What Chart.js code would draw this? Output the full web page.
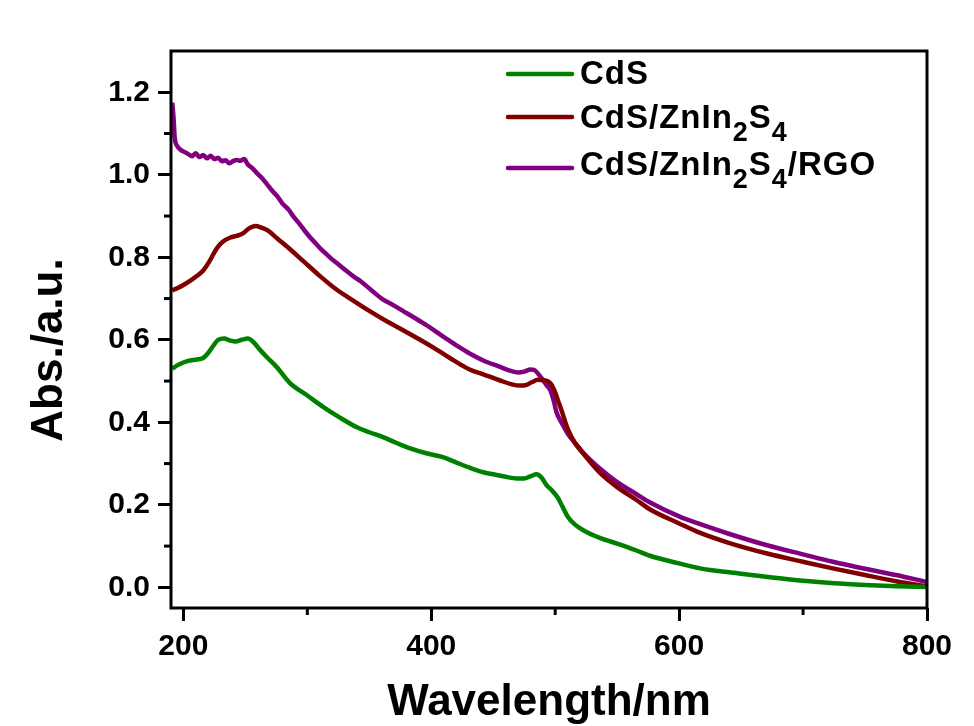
<!DOCTYPE html>
<html>
<head>
<meta charset="utf-8">
<script src="https://cdn.jsdelivr.net/npm/chart.js@4.4.1/dist/chart.umd.min.js"></script>
<style>
  html, body { margin: 0; padding: 0; background: #fff; }
</style>
</head>
<body>
<canvas id="chart" width="974" height="726"></canvas>
<script>
// ===== DATA =====
const seriesNames = ['CdS', 'CdS/ZnIn_2S_4', 'CdS/ZnIn_2S_4/RGO'];
const seriesColors = ['#008000', '#800000', '#800080'];

const cdsWl  = [191, 195, 200, 204, 208, 212, 216, 220, 224, 228, 233, 238, 242, 247, 252, 256, 262, 268, 275, 286, 300, 313, 326, 340, 350, 361, 372, 383, 396, 410, 420, 431, 442, 450, 460, 469, 475, 480, 485, 489, 493, 497, 502, 506, 510, 516, 523, 536, 550, 565, 577, 600, 617, 650, 675, 700, 725, 750, 775, 800];
const cdsAbs = [0.530, 0.538, 0.545, 0.549, 0.551, 0.553, 0.556, 0.568, 0.585, 0.600, 0.603, 0.598, 0.596, 0.600, 0.603, 0.596, 0.575, 0.556, 0.535, 0.495, 0.465, 0.437, 0.412, 0.388, 0.376, 0.364, 0.350, 0.337, 0.325, 0.315, 0.303, 0.290, 0.279, 0.274, 0.268, 0.264, 0.264, 0.269, 0.274, 0.266, 0.248, 0.236, 0.218, 0.195, 0.172, 0.152, 0.138, 0.120, 0.106, 0.090, 0.076, 0.058, 0.046, 0.033, 0.024, 0.016, 0.010, 0.006, 0.003, 0.001];

const czWl  = [191, 195, 200, 206, 211, 216, 221, 227, 232, 238, 243, 248, 253, 258, 263, 268, 276, 284, 297, 310, 323, 337, 350, 364, 378, 391, 405, 415, 431, 442, 455, 465, 472, 477, 481, 486, 491, 496, 499, 502, 505, 510, 516, 523, 536, 550, 565, 577, 600, 617, 640, 671, 700, 724, 750, 775, 800];
const czAbs = [0.720, 0.725, 0.733, 0.744, 0.755, 0.768, 0.790, 0.822, 0.838, 0.848, 0.852, 0.858, 0.870, 0.876, 0.872, 0.865, 0.845, 0.825, 0.790, 0.755, 0.723, 0.695, 0.670, 0.645, 0.622, 0.600, 0.575, 0.556, 0.528, 0.516, 0.502, 0.492, 0.489, 0.491, 0.497, 0.503, 0.502, 0.495, 0.480, 0.455, 0.430, 0.385, 0.350, 0.323, 0.278, 0.243, 0.213, 0.188, 0.155, 0.132, 0.108, 0.082, 0.062, 0.046, 0.030, 0.015, 0.002];

const czrWl  = [191, 192, 193, 195, 198, 201, 204, 207, 210, 213, 216, 219, 222, 225, 228, 231, 234, 237, 240, 243, 246, 249, 252, 256, 260, 264, 268, 272, 276, 280, 285, 289, 294, 298, 302, 307, 311, 316, 320, 325, 332, 338, 343, 351, 360, 370, 380, 391, 400, 410, 415, 420, 431, 442, 455, 465, 470, 475, 480, 483, 487, 490, 493, 496, 499, 501, 505, 510, 516, 523, 536, 550, 565, 577, 600, 617, 640, 671, 700, 724, 750, 775, 800];
const czrAbs = [1.175, 1.140, 1.090, 1.070, 1.060, 1.055, 1.050, 1.045, 1.052, 1.043, 1.048, 1.040, 1.046, 1.038, 1.041, 1.033, 1.035, 1.028, 1.033, 1.036, 1.034, 1.038, 1.025, 1.015, 1.002, 0.990, 0.975, 0.960, 0.947, 0.930, 0.915, 0.898, 0.880, 0.864, 0.849, 0.833, 0.820, 0.806, 0.795, 0.783, 0.766, 0.752, 0.742, 0.722, 0.700, 0.683, 0.665, 0.645, 0.628, 0.607, 0.597, 0.587, 0.567, 0.550, 0.535, 0.524, 0.521, 0.523, 0.528, 0.527, 0.515, 0.503, 0.490, 0.478, 0.450, 0.425, 0.400, 0.373, 0.350, 0.325, 0.288, 0.255, 0.227, 0.205, 0.172, 0.153, 0.130, 0.102, 0.080, 0.062, 0.045, 0.030, 0.013];

const xMajor = [200, 400, 600, 800];
const xMinor = [300, 500, 700];
const yMajor = [0, 0.2, 0.4, 0.6, 0.8, 1.0, 1.2];
const yMinor = [0.1, 0.3, 0.5, 0.7, 0.9, 1.1];

const FONT = "'Liberation Sans', Arial, sans-serif";

function toPoints(xs, ys) {
    return xs.map((x, i) => ({x: x, y: ys[i]}));
}

// ===== PLUGINS =====
// frame, minor ticks, y title, legend with subscripts
const decorations = {
    id: 'decorations',
    afterDraw(chart) {
        const ctx = chart.ctx;
        const a = chart.chartArea;
        const xs = chart.scales.x, ys = chart.scales.y;
        ctx.save();
        ctx.strokeStyle = '#000';
        ctx.lineWidth = 3;
        ctx.strokeRect(a.left, a.top, a.right - a.left, a.bottom - a.top);

        xMinor.forEach(v => {
            const px = xs.getPixelForValue(v);
            ctx.beginPath();
            ctx.moveTo(px, a.bottom);
            ctx.lineTo(px, a.bottom + 7);
            ctx.stroke();
        });
        yMinor.forEach(v => {
            const py = ys.getPixelForValue(v);
            ctx.beginPath();
            ctx.moveTo(a.left, py);
            ctx.lineTo(a.left - 7, py);
            ctx.stroke();
        });

        // y axis title
        ctx.fillStyle = '#000';
        ctx.font = 'bold 44px ' + FONT;
        ctx.textAlign = 'center';
        ctx.textBaseline = 'alphabetic';
        ctx.translate(62, 350);
        ctx.rotate(-Math.PI / 2);
        ctx.fillText('Abs./a.u.', 0, 0);
        ctx.restore();

        // legend
        ctx.save();
        const rows = [84, 128, 175];
        const lineY = [74, 117, 168];
        chart.data.datasets.forEach((ds, i) => {
            ctx.strokeStyle = ds.borderColor;
            ctx.lineWidth = 4.5;
            ctx.lineCap = 'round';
            ctx.beginPath();
            ctx.moveTo(508, lineY[i]);
            ctx.lineTo(572, lineY[i]);
            ctx.stroke();

            let x = 580;
            const parts = ds.label.split(/(_\d)/).filter(p => p.length);
            ctx.fillStyle = '#000';
            ctx.textAlign = 'left';
            ctx.textBaseline = 'alphabetic';
            ctx.letterSpacing = '1px';
            parts.forEach(p => {
                if (p[0] === '_') {
                    ctx.font = 'bold 27px ' + FONT;
                    ctx.fillText(p.slice(1), x, rows[i] + 13);
                    x += ctx.measureText(p.slice(1)).width;
                } else {
                    ctx.font = 'bold 33px ' + FONT;
                    ctx.fillText(p, x, rows[i]);
                    x += ctx.measureText(p).width;
                }
            });
        });
        ctx.restore();
    }
};

// ===== CHART =====
const datasets = [
    toPoints(cdsWl, cdsAbs),
    toPoints(czWl, czAbs),
    toPoints(czrWl, czrAbs)
].map((pts, i) => ({
    label: seriesNames[i],
    data: pts,
    borderColor: seriesColors[i],
    backgroundColor: seriesColors[i],
    borderWidth: 4.5,
    pointRadius: 0,
    cubicInterpolationMode: 'monotone',
    fill: false
}));

const tickFont = {family: FONT, size: 30, weight: 'bold'};

const chart = new Chart(document.getElementById('chart'), {
    type: 'line',
    data: {datasets: datasets},
    options: {
        responsive: false,
        animation: false,
        layout: {padding: {top: 51, right: 47, left: 0, bottom: 0}},
        plugins: {
            legend: {display: false},
            tooltip: {enabled: false}
        },
        scales: {
            x: {
                type: 'linear',
                min: 190,
                max: 800,
                afterBuildTicks: s => { s.ticks = xMajor.map(v => ({value: v})); },
                afterFit: s => { s.height = 118; },
                ticks: {
                    callback: v => String(v),
                    font: tickFont,
                    color: '#000',
                    padding: 8,
                    maxRotation: 0,
                    autoSkip: false
                },
                grid: {drawOnChartArea: false, tickLength: 13, tickWidth: 3, tickColor: '#000'},
                border: {display: false},
                title: {
                    display: true,
                    text: 'Wavelength/nm',
                    color: '#000',
                    font: {family: FONT, size: 44, weight: 'bold', lineHeight: 1.05},
                    padding: 0
                }
            },
            y: {
                type: 'linear',
                min: -0.05,
                max: 1.30,
                afterBuildTicks: s => { s.ticks = yMajor.map(v => ({value: v})); },
                afterFit: s => { s.width = 171; },
                ticks: {
                    callback: v => v.toFixed(1),
                    font: tickFont,
                    color: '#000',
                    padding: 8,
                    autoSkip: false
                },
                grid: {drawOnChartArea: false, tickLength: 13, tickWidth: 3, tickColor: '#000'},
                border: {display: false}
            }
        }
    },
    plugins: [decorations]
});
</script>
</body>
</html>
